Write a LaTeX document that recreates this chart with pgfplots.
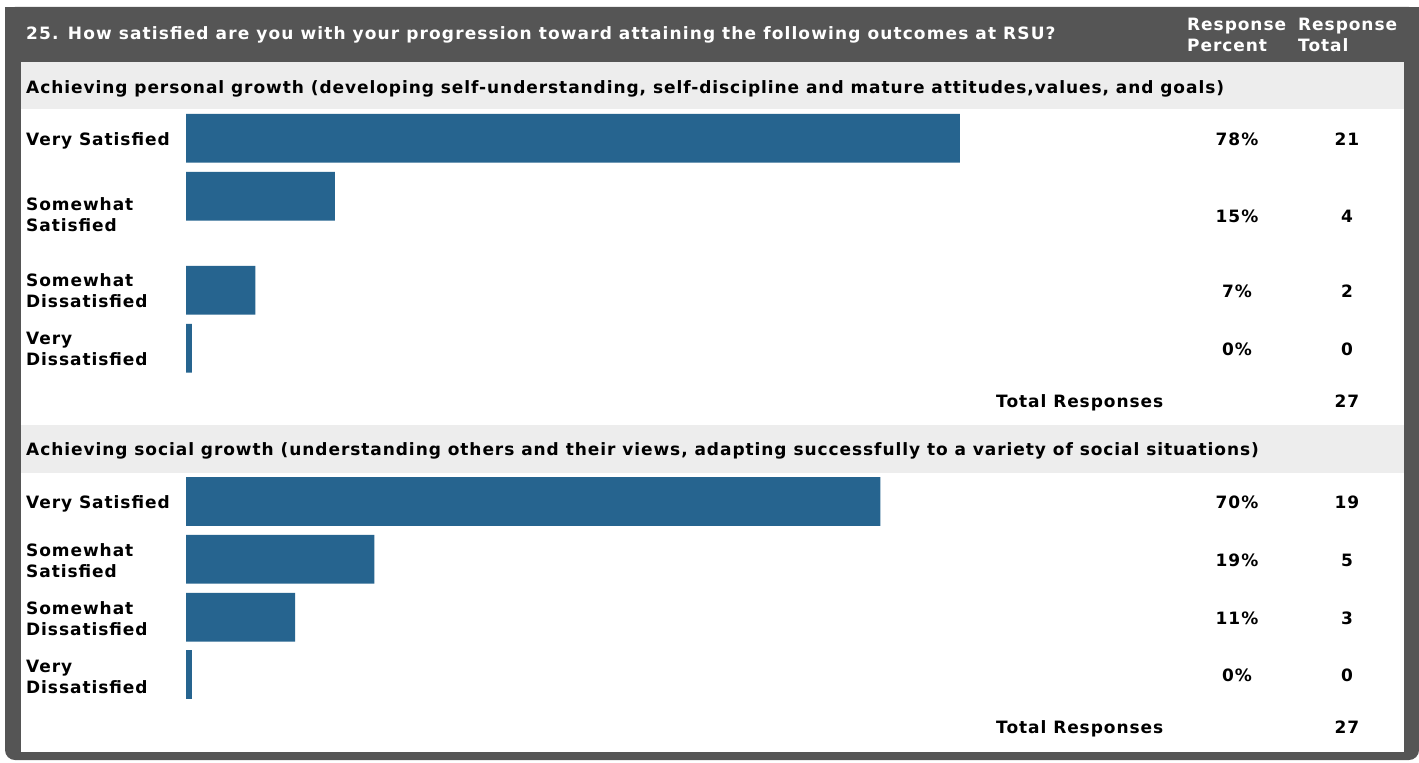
\documentclass[border=0pt]{standalone}
\usepackage{pgfplots}
\pgfplotsset{compat=1.18}
\usepackage{pgfplotstable}
\usepackage{fontspec}
\setmainfont{DejaVu Sans}[LetterSpace=5.5]
\definecolor{framegray}{RGB}{85,85,85}
\definecolor{bandgray}{RGB}{237,237,237}
\definecolor{barblue}{RGB}{38,100,143}

\pgfplotstableread{
y p
138.3 78
196.3 15
290.3 7
348.3 0.6
}\personal
\pgfplotstableread{
y p
501.5 70
559.3 19
617.3 11
674.5 0.6
}\social

\begin{document}
\fontsize{17bp}{21bp}\selectfont\bfseries
\begin{tikzpicture}
\begin{scope}[x=1bp,y=-1bp]
\useasboundingbox (0,0) rectangle (1419,762);
\fill[framegray, rounded corners=10bp] (5,7) rectangle (1419,760);
\fill[framegray] (5,7) rectangle (1419,100);
\fill[white] (21,62) rectangle (1404,752);
\fill[bandgray] (21,62) rectangle (1404,108.7);
\fill[bandgray] (21,425) rectangle (1404,472.7);
\end{scope}

\begin{axis}[at={(186bp,-62bp)}, anchor=north west, scale only axis,
  width=992bp, height=690bp, xmin=0, xmax=100, ymin=62, ymax=752,
  y dir=reverse, hide axis, xbar, bar width=48.7, bar shift=0pt]
\addplot[fill=barblue, draw=none] table[x=p, y=y] {\personal};
\addplot[fill=barblue, draw=none] table[x=p, y=y] {\social};
\end{axis}

\begin{scope}[x=1bp,y=-1bp]
\tikzset{lab/.style={anchor=base west, inner sep=0pt}, num/.style={anchor=base, inner sep=0pt}}
\node[lab, text=white] at (26,40) {\addfontfeature{LetterSpace=6.6}25. How satisfied are you with your progression toward attaining the following outcomes at RSU?};
\node[lab, text=white] at (1187,30.5) {Response};
\node[lab, text=white] at (1187,51.5) {Percent};
\node[lab, text=white] at (1298,30.5) {Response};
\node[lab, text=white] at (1298,51.5) {Total};

\node[lab] at (26,93.3) {Achieving personal growth (developing self-understanding, self-discipline and mature attitudes,values, and goals)};
\node[lab] at (26,145.5) {Very Satisfied};
\node[lab] at (26,210.5) {Somewhat};
\node[lab] at (26,231) {Satisfied};
\node[lab] at (26,286.5) {Somewhat};
\node[lab] at (26,307.5) {Dissatisfied};
\node[lab] at (26,344.5) {Very};
\node[lab] at (26,365.5) {Dissatisfied};
\node[num] at (1237,145) {78\%}; \node[num] at (1347,145) {21};
\node[num] at (1237,222) {15\%}; \node[num] at (1347,222) {4};
\node[num] at (1237,297) {7\%}; \node[num] at (1347,297) {2};
\node[num] at (1237,355) {0\%}; \node[num] at (1347,355) {0};
\node[lab] at (996,407.5) {Total Responses};
\node[num] at (1347,407.5) {27};

\node[lab] at (26,455.7) {Achieving social growth (understanding others and their views, adapting successfully to a variety of social situations)};
\node[lab] at (26,508.5) {Very Satisfied};
\node[lab] at (26,556.5) {Somewhat};
\node[lab] at (26,577) {Satisfied};
\node[lab] at (26,614.5) {Somewhat};
\node[lab] at (26,635) {Dissatisfied};
\node[lab] at (26,672) {Very};
\node[lab] at (26,693) {Dissatisfied};
\node[num] at (1237,508) {70\%}; \node[num] at (1347,508) {19};
\node[num] at (1237,566) {19\%}; \node[num] at (1347,566) {5};
\node[num] at (1237,624) {11\%}; \node[num] at (1347,624) {3};
\node[num] at (1237,681) {0\%}; \node[num] at (1347,681) {0};
\node[lab] at (996,733.5) {Total Responses};
\node[num] at (1347,733.5) {27};
\end{scope}
\end{tikzpicture}
\end{document}
